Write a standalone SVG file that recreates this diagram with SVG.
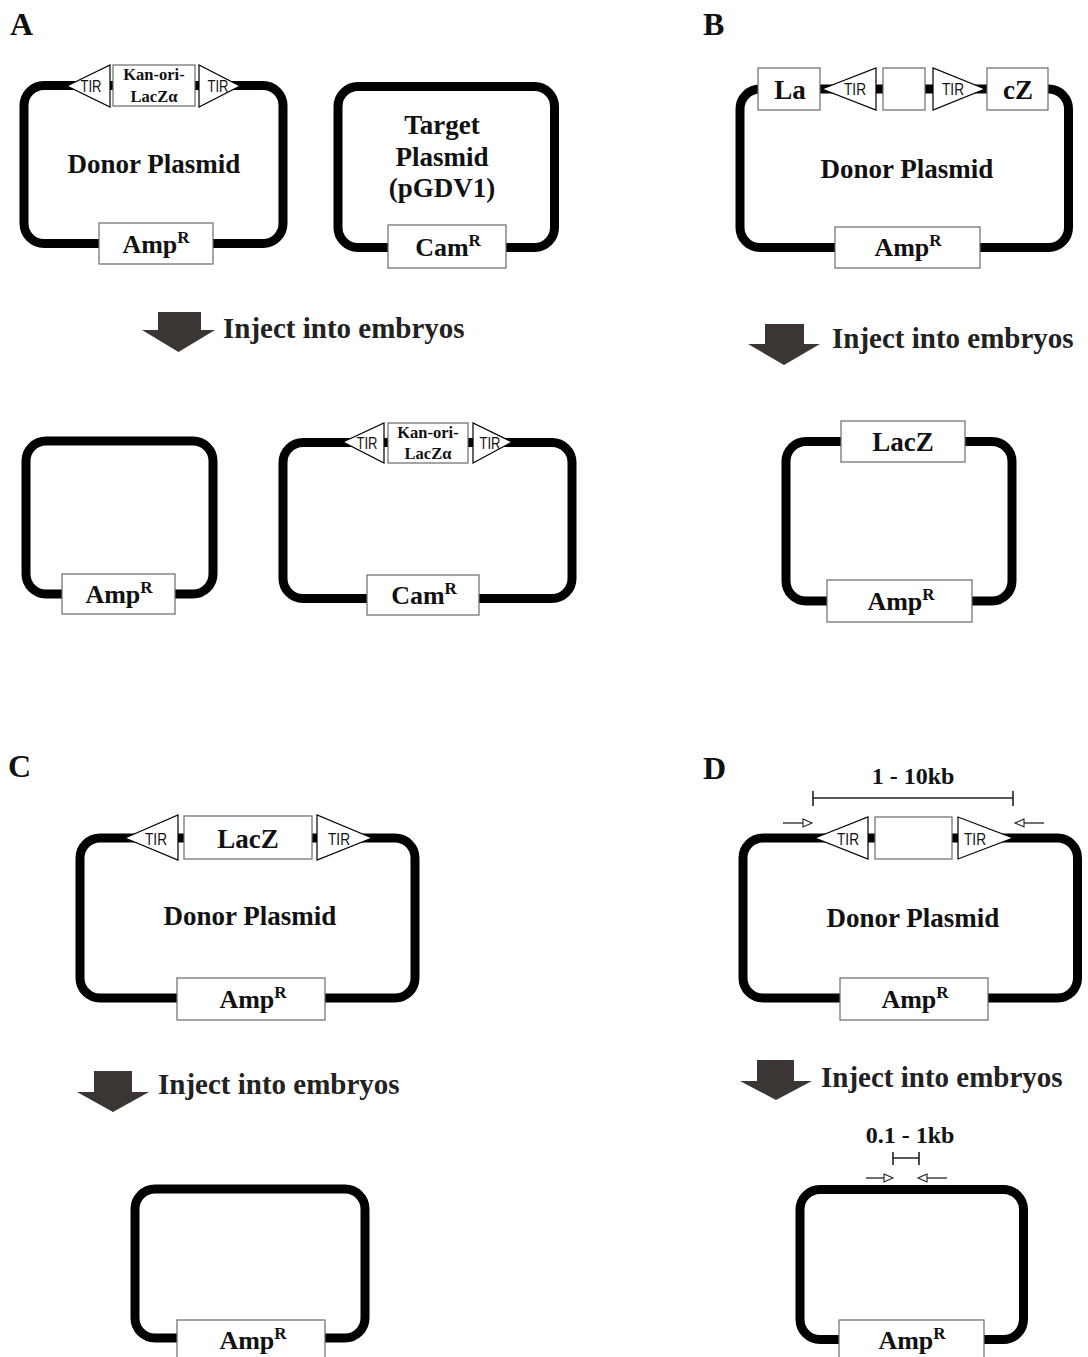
<svg xmlns="http://www.w3.org/2000/svg" width="1088" height="1357" viewBox="0 0 1088 1357">
<style>
.loop{fill:none;stroke:#000;stroke-width:9}
.box{fill:#fff;stroke:#6a6a6a;stroke-width:1.2}
.tri{fill:#fff;stroke:#000;stroke-width:1.2;stroke-linejoin:miter}
.t{font-family:"Liberation Serif","Times New Roman",serif;font-weight:bold;fill:#111;text-anchor:middle}
.tir{font-family:"Liberation Sans",Arial,sans-serif;font-size:16px;fill:#111;text-anchor:middle}
.big{font-size:27px}
.inj{font-family:"Liberation Serif","Times New Roman",serif;font-weight:bold;font-size:29px;fill:#222}
.lab{font-family:"Liberation Serif","Times New Roman",serif;font-weight:bold;font-size:32px;fill:#111}
.sup{font-size:17px}
.darr{fill:#3b3633}
.dim{stroke:#222;stroke-width:1.6;fill:none}
.pr{stroke:#222;stroke-width:1.3;fill:none}
.prh{fill:#fff;stroke:#222;stroke-width:1.1}
</style>

<!-- panel labels -->
<text class="lab" x="10" y="35">A</text>
<text class="lab" x="703" y="35">B</text>
<text class="lab" x="8" y="777">C</text>
<text class="lab" x="703" y="779">D</text>

<!-- Panel A donor -->
<g id="A-donor">
<rect class="loop" x="24" y="85.5" width="259" height="158" rx="20"/>
<polygon class="tri" points="67,86 110,65 110,107"/>
<rect class="box" x="113" y="65" width="82" height="41"/>
<polygon class="tri" points="199,65 199,107 240,86"/>
<text class="tir" x="91" y="92" textLength="21" lengthAdjust="spacingAndGlyphs">TIR</text>
<text class="tir" x="218" y="92" textLength="21" lengthAdjust="spacingAndGlyphs">TIR</text>
<text class="t" x="154" y="80" font-size="16.5">Kan-ori-</text>
<text class="t" x="154" y="102" font-size="16.5">LacZα</text>
<text class="t big" x="154" y="173">Donor Plasmid</text>
<rect class="box" x="99" y="223" width="114" height="41"/>
<text class="t" x="156" y="253" font-size="26">Amp<tspan class="sup" dy="-10">R</tspan></text>
</g>

<!-- Panel A target -->
<g id="A-target">
<rect class="loop" x="338" y="86.5" width="216.5" height="161" rx="20"/>
<text class="t big" x="442" y="134">Target</text>
<text class="t big" x="442" y="166">Plasmid</text>
<text class="t big" x="442" y="197">(pGDV1)</text>
<rect class="box" x="388" y="225" width="118" height="43"/>
<text class="t" x="448" y="256" font-size="26">Cam<tspan class="sup" dy="-10">R</tspan></text>
</g>

<!-- Panel A results -->
<g id="A-result-donor">
<rect class="loop" x="26" y="441" width="187" height="153" rx="20"/>
<rect class="box" x="62" y="574" width="113" height="40"/>
<text class="t" x="119" y="603" font-size="26">Amp<tspan class="sup" dy="-10">R</tspan></text>
</g>
<g id="A-result-target">
<rect class="loop" x="283" y="442.5" width="289" height="156" rx="20"/>
<polygon class="tri" points="343,442 384,423 384,463"/>
<rect class="box" x="388" y="423" width="80" height="40"/>
<polygon class="tri" points="473,423 473,463 512,442"/>
<text class="tir" x="367" y="449" textLength="21" lengthAdjust="spacingAndGlyphs">TIR</text>
<text class="tir" x="490" y="449" textLength="21" lengthAdjust="spacingAndGlyphs">TIR</text>
<text class="t" x="428" y="438" font-size="16.5">Kan-ori-</text>
<text class="t" x="428" y="459" font-size="16.5">LacZα</text>
<rect class="box" x="367" y="575" width="112" height="40"/>
<text class="t" x="424" y="604" font-size="26">Cam<tspan class="sup" dy="-10">R</tspan></text>
</g>

<!-- Panel B -->
<g id="B-donor">
<rect class="loop" x="740" y="89" width="328.5" height="158.5" rx="20"/>
<rect class="box" x="758" y="68" width="62" height="42"/>
<polygon class="tri" points="822,89 876,68 876,110"/>
<rect class="box" x="883" y="68" width="42" height="42"/>
<polygon class="tri" points="933,68 933,110 985,89"/>
<rect class="box" x="987" y="68" width="61" height="42"/>
<text class="t big" x="790" y="99">La</text>
<text class="t big" x="1018" y="99">cZ</text>
<text class="tir" x="855" y="95" textLength="22" lengthAdjust="spacingAndGlyphs">TIR</text>
<text class="tir" x="953" y="95" textLength="22" lengthAdjust="spacingAndGlyphs">TIR</text>
<text class="t big" x="907" y="178">Donor Plasmid</text>
<rect class="box" x="835" y="227" width="145" height="41"/>
<text class="t" x="908" y="256" font-size="26">Amp<tspan class="sup" dy="-10">R</tspan></text>
</g>
<g id="B-result">
<rect class="loop" x="786" y="441.5" width="226" height="159.5" rx="20"/>
<rect class="box" x="841" y="421" width="124" height="41"/>
<text class="t big" x="903" y="451">LacZ</text>
<rect class="box" x="827" y="580" width="145" height="42"/>
<text class="t" x="901" y="610" font-size="26">Amp<tspan class="sup" dy="-10">R</tspan></text>
</g>

<!-- Panel C -->
<g id="C-donor">
<rect class="loop" x="80" y="838" width="335" height="160" rx="20"/>
<polygon class="tri" points="125,838 178,815 178,860"/>
<rect class="box" x="184" y="816" width="128" height="43"/>
<polygon class="tri" points="317,815 317,860 372,838"/>
<text class="tir" x="156" y="845" textLength="22" lengthAdjust="spacingAndGlyphs">TIR</text>
<text class="tir" x="339" y="845" textLength="22" lengthAdjust="spacingAndGlyphs">TIR</text>
<text class="t" x="248" y="848" font-size="27">LacZ</text>
<text class="t big" x="250" y="925">Donor Plasmid</text>
<rect class="box" x="177" y="978" width="148" height="42"/>
<text class="t" x="253" y="1008" font-size="26">Amp<tspan class="sup" dy="-10">R</tspan></text>
</g>
<g id="C-result">
<rect class="loop" x="135" y="1189" width="230" height="149" rx="20"/>
<rect class="box" x="177" y="1320" width="148" height="45"/>
<text class="t" x="253" y="1349" font-size="26">Amp<tspan class="sup" dy="-10">R</tspan></text>
</g>

<!-- Panel D -->
<g id="D-donor">
<rect class="loop" x="743" y="838" width="334.5" height="160" rx="20"/>
<polygon class="tri" points="815,838 868,817 868,859"/>
<rect class="box" x="875" y="817" width="77" height="42"/>
<polygon class="tri" points="958,817 958,859 1013,838"/>
<text class="tir" x="848" y="845" textLength="22" lengthAdjust="spacingAndGlyphs">TIR</text>
<text class="tir" x="975" y="845" textLength="22" lengthAdjust="spacingAndGlyphs">TIR</text>
<text class="t big" x="913" y="927">Donor Plasmid</text>
<rect class="box" x="840" y="978" width="148" height="42"/>
<text class="t" x="915" y="1008" font-size="26">Amp<tspan class="sup" dy="-10">R</tspan></text>
</g>
<g id="D-result">
<rect class="loop" x="800" y="1189.5" width="223.5" height="150" rx="20"/>
<rect class="box" x="839" y="1320" width="145" height="45"/>
<text class="t" x="912" y="1349" font-size="26">Amp<tspan class="sup" dy="-10">R</tspan></text>
</g>

<!-- connectors: injection arrows, dimension bars, primers -->
<g id="connectors">
<polygon class="darr" points="158,312 201,312 201,330 215,330 178.5,352 142,330 158,330"/>
<polygon class="darr" points="765,324 804,324 804,344 820,344 784,365 748,344 765,344"/>
<polygon class="darr" points="94,1071 132,1071 132,1092 149,1092 113,1112 77,1092 94,1092"/>
<polygon class="darr" points="757,1060 794,1060 794,1081 812,1081 776,1100 740,1081 757,1081"/>

<path class="dim" d="M813,798 H1013 M813,791 V806 M1013,791 V806"/>
<path class="dim" d="M893,1158 H919 M893,1152 V1165 M919,1152 V1165"/>

<path class="pr" d="M783,823 H803"/>
<polygon class="prh" points="803,819 812,823 803,827"/>
<path class="pr" d="M1024,823 H1044"/>
<polygon class="prh" points="1024,819 1015,823 1024,827"/>
<path class="pr" d="M866,1178 H884"/>
<polygon class="prh" points="884,1174 893,1178 884,1182"/>
<path class="pr" d="M927,1178 H947"/>
<polygon class="prh" points="927,1174 918,1178 927,1182"/>
</g>

<g id="texts">
<text class="inj" x="223" y="338">Inject into embryos</text>
<text class="inj" x="832" y="348">Inject into embryos</text>
<text class="inj" x="158" y="1094">Inject into embryos</text>
<text class="inj" x="821" y="1087">Inject into embryos</text>
<text class="t" x="913" y="784" font-size="24">1 - 10kb</text>
<text class="t" x="910" y="1143" font-size="24">0.1 - 1kb</text>
</g>
</svg>
